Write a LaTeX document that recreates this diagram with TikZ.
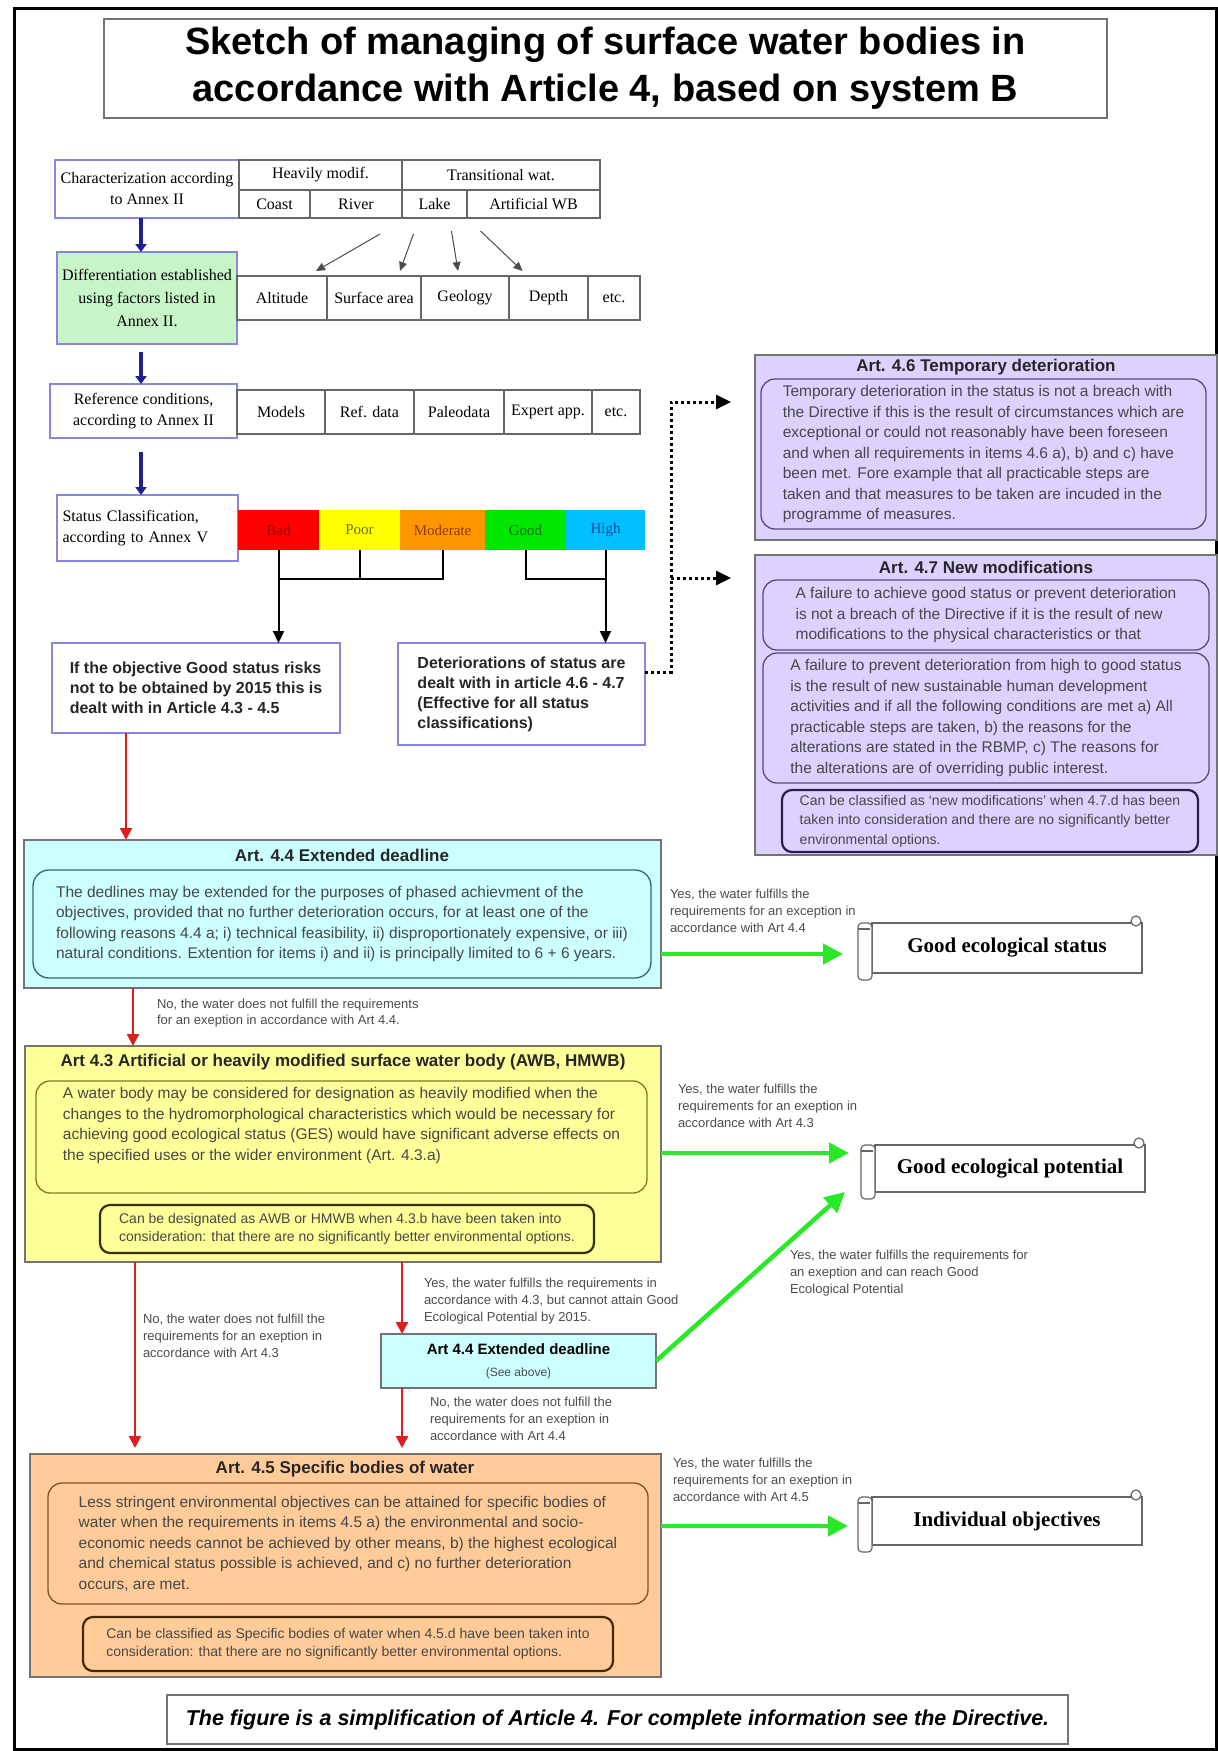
\documentclass[tikz,border=0pt]{standalone}
\usepackage{fontspec}
\setmainfont{Liberation Sans}
\newfontfamily\seriffont{Liberation Serif}
\usetikzlibrary{arrows.meta,calc}
\newcommand\fsz[2]{\fontsize{#1}{#2}\selectfont}
\definecolor{lav}{RGB}{221,209,255}
\definecolor{cyanbg}{RGB}{204,255,255}
\definecolor{yelbg}{RGB}{255,255,153}
\definecolor{orbg}{RGB}{255,204,153}
\definecolor{diffg}{RGB}{200,245,200}
\definecolor{bluebord}{RGB}{135,135,225}
\definecolor{darkblue}{RGB}{30,30,150}
\definecolor{redarr}{RGB}{220,30,30}
\definecolor{garr}{RGB}{40,232,40}
\definecolor{sbad}{RGB}{255,0,0}
\definecolor{spoor}{RGB}{255,255,0}
\definecolor{smod}{RGB}{255,150,0}
\definecolor{sgood}{RGB}{0,230,0}
\definecolor{shigh}{RGB}{0,190,255}
\definecolor{lavin}{RGB}{85,75,125}
\definecolor{lavcond}{RGB}{40,30,80}
\definecolor{cyanin}{RGB}{60,100,100}
\definecolor{yelin}{RGB}{130,120,40}
\definecolor{yelcond}{RGB}{50,50,0}
\definecolor{orin}{RGB}{130,80,40}
\definecolor{orcond}{RGB}{70,40,10}
\tikzset{
  lbl/.style={anchor=north west, align=left, font=\fsz{13}{17}, text=black!70},
  tcell/.style={draw=black!60, line width=1.2pt, anchor=north west, font=\seriffont\fsz{16}{19}},
  bbox/.style={draw=bluebord, line width=1.5pt, anchor=north west, align=center, font=\seriffont\fsz{16}{21}},
  statc/.style={anchor=north west, font=\seriffont\fsz{15}{18}, minimum height=40pt},
  artbox/.style={draw=black!55, line width=1.5pt, anchor=north west},
  arttitle/.style={font=\bfseries\fsz{17}{20}, text=black!85},
  innerb/.style={draw=#1, line width=1.3pt, rounded corners=14pt, anchor=north west, align=left, font=\fsz{15.5}{20.5}, text=black!72},
  condb/.style={draw=#1, line width=2.2pt, rounded corners=10pt, anchor=north west, align=left, font=\fsz{14}{18}, text=black!72},
  boldbox/.style={draw=bluebord, line width=1.5pt, anchor=north west, align=left, font=\bfseries\fsz{16}{20}, text=black!85},
  scrollb/.style={draw=black!60, line width=1.2pt, anchor=north west, font=\seriffont\bfseries\fsz{21}{24}},
  scrollln/.style={draw=black!60, line width=1.2pt},
  bluearrow/.style={draw=darkblue, line width=4pt, -{Triangle[length=8pt,width=11pt]}},
  redarrow/.style={draw=redarr, line width=2.5pt, -{Triangle[length=12pt,width=12pt]}},
  garrow/.style={draw=garr, line width=4.5pt, -{Triangle[length=20pt,width=20pt]}},
  thinarrow/.style={draw=black!70, line width=1pt, -{Triangle[length=9pt,width=8pt]}},
  blk/.style={draw=black, line width=2pt},
  blkarrow/.style={blk, -{Triangle[length=12pt,width=11pt]}},
  dotline/.style={draw=black, line width=3pt, dash pattern=on 3pt off 3pt, -{Triangle[length=15pt,width=14pt]}},
}
\newcommand\scrolldeco[1]{%
  \draw[scrollln, fill=white, rounded corners=4pt] ([shift={(-14,0)}]#1.north west) -- ([shift={(-14,7)}]#1.south west) -- ([shift={(0,7)}]#1.south west) -- (#1.north west) -- cycle;
  \draw[scrollln] ([shift={(-14,6)}]#1.north west) -- ([shift={(-2,6)}]#1.north west);
  \draw[scrollln, fill=white] ([shift={(-6,-2)}]#1.north east) circle (5pt);
}
\begin{document}
\begin{tikzpicture}[x=1pt,y=-1pt, every node/.style={inner sep=0pt,outer sep=0pt}]
\fill[white] (0,0) rectangle (1218,1751);
\path[use as bounding box] (0,0) rectangle (1218,1751);
\draw[line width=3pt] (14,8) rectangle (1216,1749);

% title
\node[draw=black!55, line width=1.5pt, anchor=north west, minimum width=1003pt, minimum height=99pt, align=center, font=\bfseries\fsz{38}{47}] (title) at (104,19) {Sketch of managing of surface water bodies in\\accordance with Article 4, based on system B};

% characterization row
\node[bbox, minimum width=184pt, minimum height=58pt] (char) at (55,160) {Characterization according\\to Annex II};
\node[tcell, minimum width=163pt, minimum height=30pt] (hm) at (239,160) {Heavily modif.};
\node[tcell, minimum width=198pt, minimum height=30pt] (tw) at (402,160) {Transitional wat.};
\node[tcell, minimum width=71pt, minimum height=28pt] (coast) at (239,190) {Coast};
\node[tcell, minimum width=92pt, minimum height=28pt] (river) at (310,190) {River};
\node[tcell, minimum width=65pt, minimum height=28pt] (lake) at (402,190) {Lake};
\node[tcell, minimum width=133pt, minimum height=28pt] (awb) at (467,190) {Artificial WB};

% differentiation row
\node[bbox, fill=diffg, minimum width=180pt, minimum height=92pt, font=\seriffont\fsz{16}{23}] (diff) at (57,252) {Differentiation established\\using factors listed in\\Annex II.};
\node[tcell, minimum width=90pt, minimum height=44pt] (alt) at (237,276) {Altitude};
\node[tcell, minimum width=94pt, minimum height=44pt] (surf) at (327,276) {Surface area};
\node[tcell, minimum width=88pt, minimum height=44pt] (geo) at (421,276) {Geology};
\node[tcell, minimum width=79pt, minimum height=44pt] (depth) at (509,276) {Depth};
\node[tcell, minimum width=52pt, minimum height=44pt] (etca) at (588,276) {etc.};

\draw[thinarrow] ([shift={(24,16)}]river.south) -- ([shift={(34,-5)}]alt.north);
\draw[thinarrow] ([shift={(-21,16)}]lake.south) -- ([shift={(26,-5)}]surf.north);
\draw[thinarrow] ([shift={(17,13)}]lake.south) -- ([shift={(-7,-5)}]geo.north);
\draw[thinarrow] ([shift={(-53,13)}]awb.south) -- ([shift={(-26,-5)}]depth.north);

% reference row
\node[bbox, minimum width=187pt, minimum height=54pt] (ref) at (50,384) {Reference conditions,\\according to Annex II};
\node[tcell, minimum width=88pt, minimum height=44pt] (models) at (237,390) {Models};
\node[tcell, minimum width=89pt, minimum height=44pt] (refd) at (325,390) {Ref. data};
\node[tcell, minimum width=90pt, minimum height=44pt] (paleo) at (414,390) {Paleodata};
\node[tcell, minimum width=88pt, minimum height=44pt] (expert) at (504,390) {Expert app.};
\node[tcell, minimum width=48pt, minimum height=44pt] (etcb) at (592,390) {etc.};

% status row
\node[bbox, align=left, text width=170pt, minimum width=181pt, minimum height=66pt] (stat) at (57,495) {Status Classification,\\according to Annex V};
\node[statc, fill=sbad, minimum width=81pt, text={rgb,255:red,150;green,0;blue,0}] (bad) at (238,510) {Bad};
\node[statc, fill=spoor, minimum width=81pt, text={rgb,255:red,110;green,110;blue,0}] (poor) at (319,510) {Poor};
\node[statc, fill=smod, minimum width=85pt, text={rgb,255:red,140;green,60;blue,0}] (mod) at (400,510) {Moderate};
\node[statc, fill=sgood, minimum width=81pt, text={rgb,255:red,0;green,110;blue,0}] (good) at (485,510) {Good};
\node[statc, fill=shigh, minimum width=79pt, text={rgb,255:red,0;green,80;blue,160}] (high) at (566,510) {High};

% blue arrows
\coordinate (xb) at (141,0);
\draw[bluearrow] (char.south -| xb) -- (diff.north -| xb);
\draw[bluearrow] ([shift={(0,8)}]diff.south -| xb) -- (ref.north -| xb);
\draw[bluearrow] ([shift={(0,14)}]ref.south -| xb) -- (stat.north -| xb);

% outcome boxes
\node[boldbox, minimum width=288pt, minimum height=90pt] (ifb) at (52,643) {If the objective Good status risks\\not to be obtained by 2015 this is\\dealt with in Article 4.3 - 4.5};
\node[boldbox, minimum width=247pt, minimum height=102pt] (det) at (398,643) {Deteriorations of status are\\dealt with in article 4.6 - 4.7\\(Effective for all status\\classifications)};

\coordinate (hl) at (0,579);
\draw[blk] (bad.south) -- (bad.south |- hl) -- (mod.south |- hl) -- (mod.south);
\draw[blk] (poor.south) -- (poor.south |- hl);
\draw[blkarrow] (bad.south |- hl) -- (bad.south |- ifb.north);
\draw[blk] (good.south) -- (good.south |- hl) -- (high.south |- hl);
\draw[blkarrow] (high.south) -- (high.south |- det.north);

% Art 4.6
\node[artbox, fill=lav, minimum width=462pt, minimum height=185pt] (a46) at (755,355) {};
\node[arttitle] (a46t) at (986,367) {Art. 4.6 Temporary deterioration};
\node[innerb=lavin, minimum width=445pt, minimum height=150pt] (a46b) at (761,379) {Temporary deterioration in the status is not a breach with\\the Directive if this is the result of circumstances which are\\exceptional or could not reasonably have been foreseen\\and when all requirements in items 4.6 a), b) and c) have\\been met. Fore example that all practicable steps are\\taken and that measures to be taken are incuded in the\\programme of measures.};

% Art 4.7
\node[artbox, fill=lav, minimum width=462pt, minimum height=300pt] (a47) at (755,555) {};
\node[arttitle] (a47t) at (986,567) {Art. 4.7 New modifications};
\node[innerb=lavin, minimum width=446pt, minimum height=70pt] (a47a) at (763,580) {A failure to achieve good status or prevent deterioration\\is not a breach of the Directive if it is the result of new\\modifications to the physical characteristics or that};
\node[innerb=lavin, minimum width=446pt, minimum height=130pt] (a47b) at (763,653) {A failure to prevent deterioration from high to good status\\is the result of new sustainable human development\\activities and if all the following conditions are met a) All\\practicable steps are taken, b) the reasons for the\\alterations are stated in the RBMP, c) The reasons for\\the alterations are of overriding public interest.};
\node[condb=lavcond, minimum width=416pt, minimum height=62pt, font=\fsz{14}{19.5}] (a47c) at (782,790) {Can be classified as `new modifications' when 4.7.d has been\\taken into consideration and there are no significantly better\\environmental options.};

% dotted connectors
\coordinate (dj) at (671,672);
\coordinate (d46) at (731,402);
\coordinate (d47) at (731,578);
\draw[dotline] (det.east |- dj) -- (dj) |- (d46);
\draw[dotline] (dj |- d47) -- (d47);

% Art 4.4
\node[artbox, fill=cyanbg, minimum width=637pt, minimum height=148pt] (a44) at (24,840) {};
\node[arttitle] (a44t) at (342,855) {Art. 4.4 Extended deadline};
\node[innerb=cyanin, rounded corners=16pt, minimum width=618pt, minimum height=108pt] (a44b) at (33,870) {The dedlines may be extended for the purposes of phased achievment of the\\objectives, provided that no further deterioration occurs, for at least one of the\\following reasons 4.4 a; i) technical feasibility, ii) disproportionately expensive, or iii)\\natural conditions. Extention for items i) and ii) is principally limited to 6 + 6 years.};

% Art 4.3
\node[artbox, fill=yelbg, minimum width=636pt, minimum height=216pt] (a43) at (25,1046) {};
\node[arttitle] (a43t) at (343,1062) {Art 4.3 Artificial or heavily modified surface water body (AWB, HMWB)};
\node[innerb=yelin, minimum width=611pt, minimum height=112pt] (a43b) at (36,1081) {A water body may be considered for designation as heavily modified when the\\changes to the hydromorphological characteristics which would be necessary for\\achieving good ecological status (GES) would have significant adverse effects on\\the specified uses or the wider environment (Art. 4.3.a)\\\strut};
\node[condb=yelcond, minimum width=494pt, minimum height=48pt] (a43c) at (100,1205) {Can be designated as AWB or HMWB when 4.3.b have been taken into\\consideration: that there are no significantly better environmental options.};

% small Art 4.4
\node[artbox, fill=cyanbg, minimum width=275pt, minimum height=54pt, align=center, font=\fsz{15}{22}] (a44s) at (381,1334) {{\bfseries Art 4.4 Extended deadline}\\{\fsz{12}{14}\color{black!70}(See above)}};

% Art 4.5
\node[artbox, fill=orbg, minimum width=631pt, minimum height=223pt] (a45) at (30,1454) {};
\node[arttitle] (a45t) at (345,1469) {Art. 4.5 Specific bodies of water};
\node[innerb=orin, minimum width=600pt, minimum height=121pt] (a45b) at (48,1483) {Less stringent environmental objectives can be attained for specific bodies of\\water when the requirements in items 4.5 a) the environmental and socio-\\economic needs cannot be achieved by other means, b) the highest ecological\\and chemical status possible is achieved, and c) no further deterioration\\occurs, are met.};
\node[condb=orcond, minimum width=530pt, minimum height=54pt] (a45c) at (83,1617) {Can be classified as Specific bodies of water when 4.5.d have been taken into\\consideration: that there are no significantly better environmental options.};

% scrolls
\node[scrollb, minimum width=270pt, minimum height=50pt] (ges) at (872,923) {Good ecological status};
\scrolldeco{ges}
\node[scrollb, minimum width=270pt, minimum height=47pt] (gep) at (875,1145) {Good ecological potential};
\scrolldeco{gep}
\node[scrollb, minimum width=270pt, minimum height=48pt] (io) at (872,1497) {Individual objectives};
\scrolldeco{io}

% red arrows
\coordinate (xr1) at (126,0);
\coordinate (xr2) at (133,0);
\coordinate (xr3) at (135,0);
\coordinate (xr4) at (402,0);
\draw[redarrow] (ifb.south -| xr1) -- (a44.north -| xr1);
\draw[redarrow] (a44.south -| xr2) -- (a43.north -| xr2);
\draw[redarrow] (a43.south -| xr3) -- ([shift={(0,-6)}]a45.north -| xr3);
\draw[redarrow] (a43.south -| xr4) -- (a44s.north -| xr4);
\draw[redarrow] (a44s.south -| xr4) -- ([shift={(0,-6)}]a45.north -| xr4);

% green arrows
\coordinate (gesin) at (843,954);
\coordinate (gepin) at (849,1153);
\coordinate (gepin2) at (845,1192);
\coordinate (ioin) at (848,1526);
\draw[garrow] (a44.east |- gesin) -- (gesin);
\draw[garrow] (a43.east |- gepin) -- (gepin);
\draw[garrow] (a44s.east) -- (gepin2);
\draw[garrow] (a45.east |- ioin) -- (ioin);

% labels
\node[lbl] (l1) at (670,889) {Yes, the water fulfills the\\requirements for an exception in\\accordance with Art 4.4};
\node[lbl, font=\fsz{13}{16}] (l2) at (157,999) {No, the water does not fulfill the requirements\\for an exeption in accordance with Art 4.4.};
\node[lbl] (l3) at (678,1084) {Yes, the water fulfills the\\requirements for an exeption in\\accordance with Art 4.3};
\node[lbl] (l4) at (143,1314) {No, the water does not fulfill the\\requirements for an exeption in\\accordance with Art 4.3};
\node[lbl] (l5) at (424,1278) {Yes, the water fulfills the requirements in\\accordance with 4.3, but cannot attain Good\\Ecological Potential by 2015.};
\node[lbl] (l6) at (790,1250) {Yes, the water fulfills the requirements for\\an exeption and can reach Good\\Ecological Potential};
\node[lbl] (l7) at (430,1397) {No, the water does not fulfill the\\requirements for an exeption in\\accordance with Art 4.4};
\node[lbl] (l8) at (673,1458) {Yes, the water fulfills the\\requirements for an exeption in\\accordance with Art 4.5};

% bottom note
\node[draw=black!55, line width=1.5pt, anchor=north west, minimum width=901pt, minimum height=49pt, font=\bfseries\itshape\fsz{21.5}{24}] (note) at (167,1695) {The figure is a simplification of Article 4. For complete information see the Directive.};
\end{tikzpicture}
\end{document}
